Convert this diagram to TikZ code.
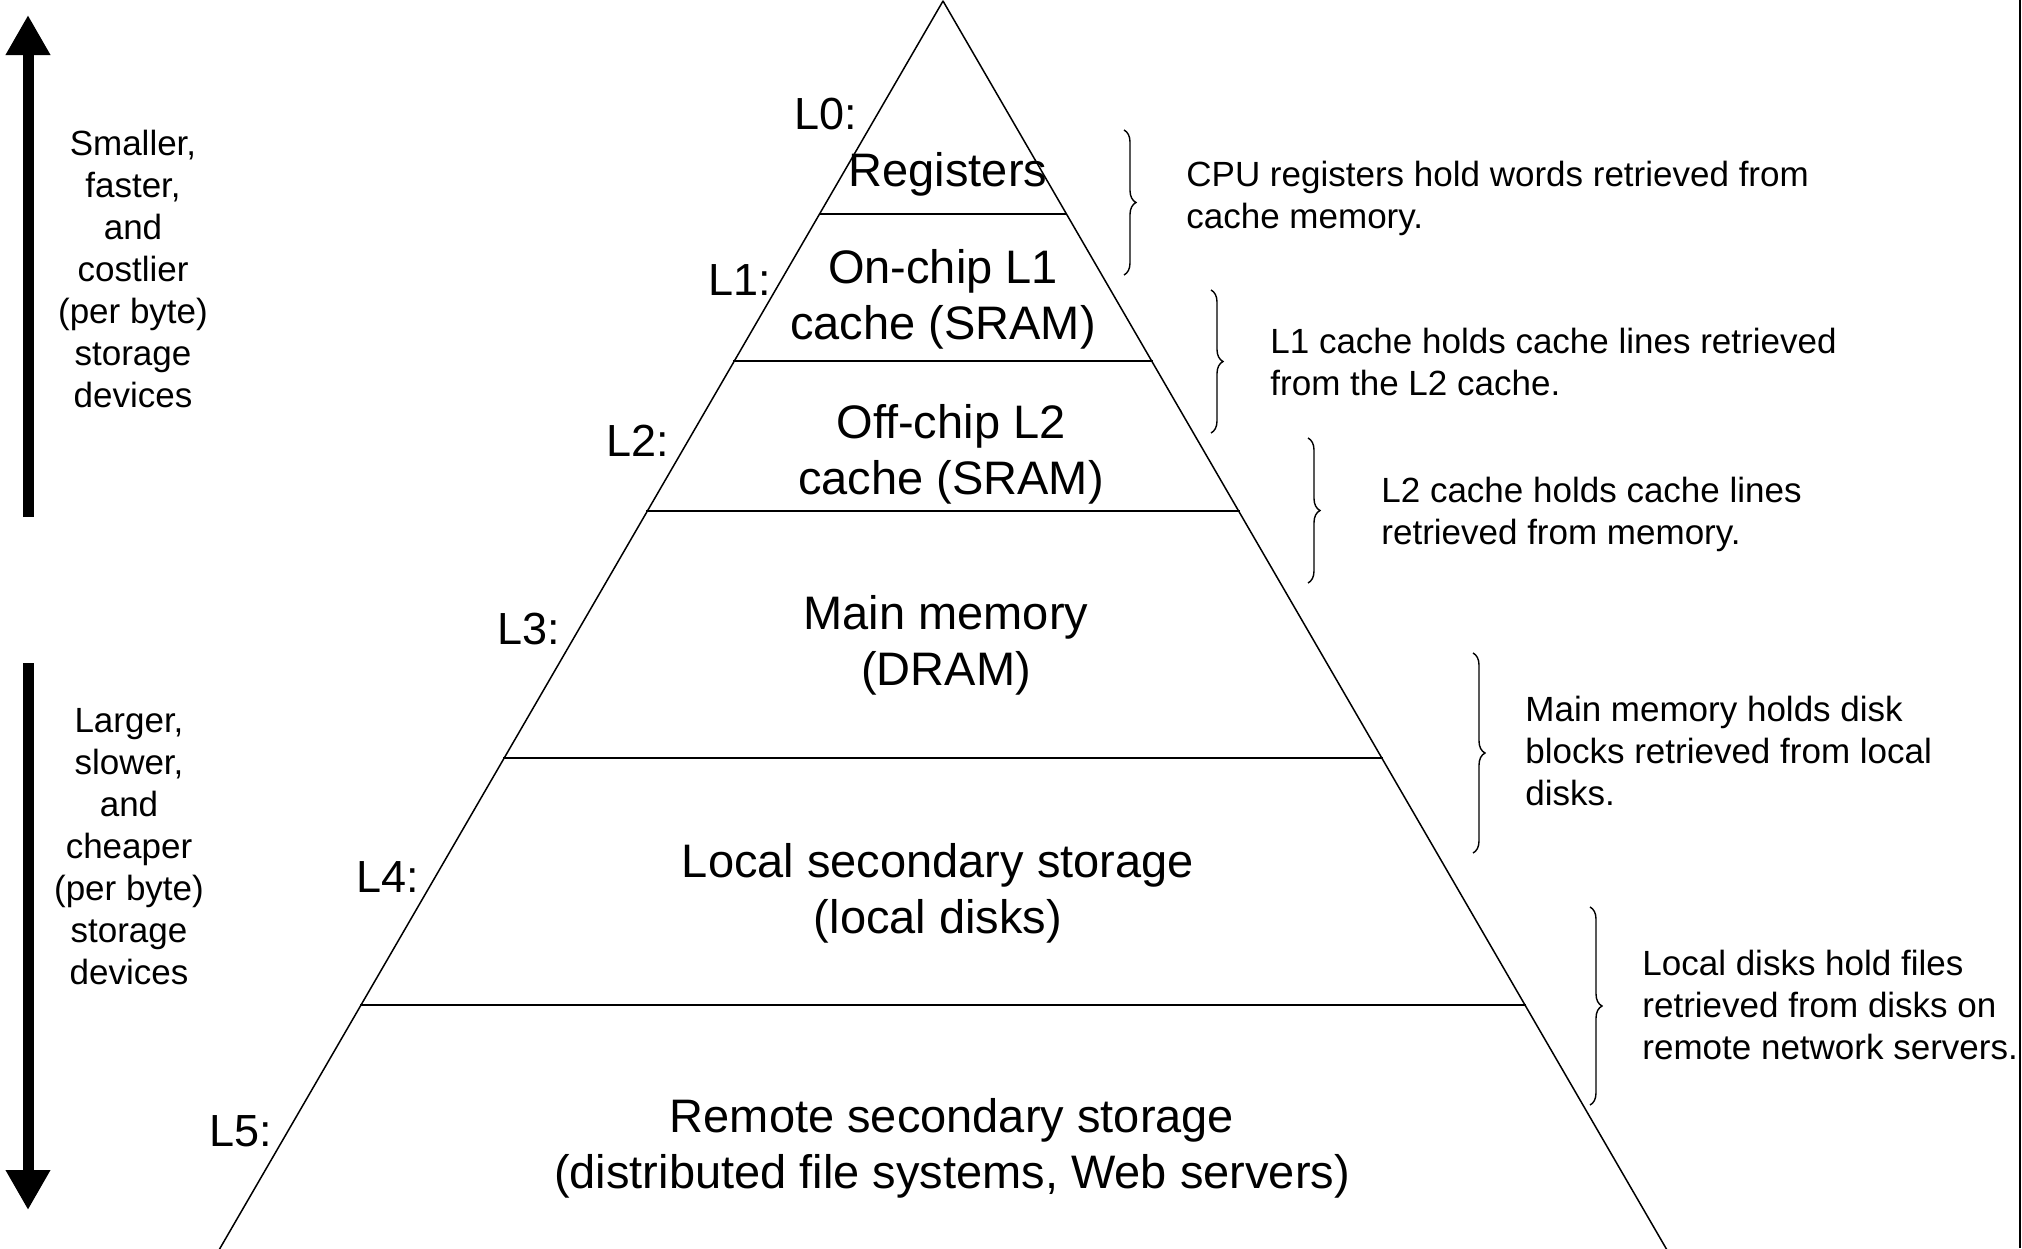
\documentclass[tikz,border=0pt]{standalone}
\usepackage{fontspec}
\setmainfont{Liberation Sans}
\usetikzlibrary{arrows.meta,decorations.pathreplacing}
\begin{document}
\begin{tikzpicture}[x=0.5pt,y=-0.5pt,
  side/.style={font=\fontsize{17.5}{21}\selectfont, align=center, inner sep=0},
  note/.style={font=\fontsize{17.5}{21}\selectfont, align=left, inner sep=0, anchor=west},
  level/.style={font=\fontsize{23.5}{28}\selectfont, align=center, inner sep=0},
  lvl/.style={font=\fontsize{22.5}{27}\selectfont, inner sep=0},
  edgeline/.style={line width=0.75pt},
  bracefig/.style={decorate, decoration={brace, amplitude=6pt}, line width=0.7pt},
  bigarrow/.style={line width=5.5pt, -{Triangle[length=20pt,width=21pt]}},
]
\useasboundingbox (0,0) rectangle (2022,1248);
% frame edge
\coordinate (fr1) at (2020,0); \coordinate (fr2) at (2020,1248);
\draw[line width=1pt] (fr1) -- (fr2);
% pyramid
\coordinate (apex) at (943,1);
\coordinate (bl) at (219,1250);
\coordinate (br) at (1667,1250);
\draw[edgeline, line join=round] (bl) -- (apex) -- (br);
\coordinate (a1) at (819,214);  \coordinate (b1) at (1067,214);
\coordinate (a2) at (733,361);  \coordinate (b2) at (1153,361);
\coordinate (a3) at (646,511);  \coordinate (b3) at (1240,511);
\coordinate (a4) at (503,758);  \coordinate (b4) at (1383,758);
\coordinate (a5) at (360,1005); \coordinate (b5) at (1526,1005);
\foreach \i in {1,...,5} \draw[edgeline] (a\i) -- (b\i);
% level texts
\node[level] (t0) at (948,174) {Registers};
\node[level] (t1) at (943,299) {On-chip L1\\cache (SRAM)};
\node[level] (t2) at (951,454) {Off-chip L2\\cache (SRAM)};
\node[level] (t3) at (946,645) {Main memory\\(DRAM)};
\node[level] (t4) at (938,893) {Local secondary storage\\(local disks)};
\node[level] (t5) at (952,1148) {Remote secondary storage\\(distributed file systems, Web servers)};
% level labels
\node[lvl] (L0) at (826,114) {L0:};
\node[lvl] (L1) at (740,280) {L1:};
\node[lvl] (L2) at (638,441) {L2:};
\node[lvl] (L3) at (529,629) {L3:};
\node[lvl] (L4) at (388,877) {L4:};
\node[lvl] (L5) at (241,1131) {L5:};
% left arrows and texts
\coordinate (upS) at (28,517); \coordinate (upT) at (28,15);
\draw[bigarrow] (upS) -- (upT);
\coordinate (dnS) at (28,663); \coordinate (dnT) at (28,1210);
\draw[bigarrow] (dnS) -- (dnT);
\node[side] (up) at (133,269) {Smaller,\\faster,\\and\\costlier\\(per byte)\\storage\\devices};
\node[side] (down) at (129,847) {Larger,\\slower,\\and\\cheaper\\(per byte)\\storage\\devices};
% braces
\coordinate (c1t) at (1124,130);  \coordinate (c1b) at (1124,275);
\coordinate (c2t) at (1211,290);  \coordinate (c2b) at (1211,433);
\coordinate (c3t) at (1308,438);  \coordinate (c3b) at (1308,583);
\coordinate (c4t) at (1473,653);  \coordinate (c4b) at (1473,853);
\coordinate (c5t) at (1590,907);  \coordinate (c5b) at (1590,1105);
\foreach \i in {1,...,5} \draw[bracefig] (c\i t) -- (c\i b);
% notes
\node[note] (n0) at (1186,198) {CPU registers hold words retrieved from\\cache memory.};
\node[note] (n1) at (1270,362) {L1 cache holds cache lines retrieved\\from the L2 cache.};
\node[note] (n2) at (1381,514) {L2 cache holds cache lines\\retrieved from memory.};
\node[note] (n3) at (1525,751) {Main memory holds disk\\blocks retrieved from local\\disks.};
\node[note] (n4) at (1642,1005) {Local disks hold files\\retrieved from disks on\\remote network servers.};
\end{tikzpicture}
\end{document}
